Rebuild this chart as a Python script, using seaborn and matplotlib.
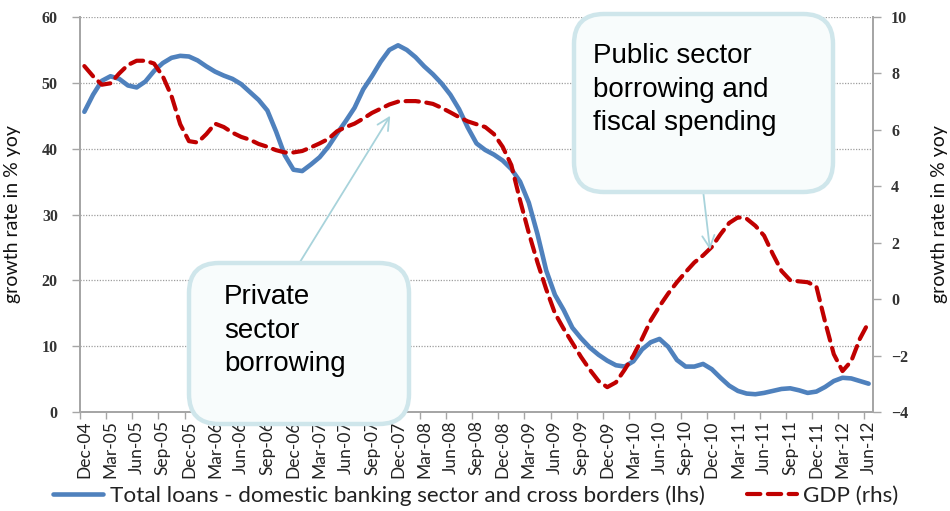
import matplotlib
matplotlib.use("Agg")
import numpy as np
import pandas as pd
import matplotlib.pyplot as plt
import seaborn as sns
from matplotlib.patches import FancyBboxPatch
from matplotlib.lines import Line2D
from matplotlib.transforms import IdentityTransform

# Monthly observations, Dec-04 .. Jun-12
months = pd.period_range("2004-12", "2012-06", freq="M").strftime("%b-%y").tolist()

# Total loans, domestic banking sector and cross borders, % yoy (left axis)
loans = [
    45.6, 48.2, 50.3, 51.0, 50.6, 49.6, 49.3, 50.2, 51.8, 53.0,
    53.8, 54.1, 54.0, 53.4, 52.5, 51.7, 51.1, 50.6, 49.8, 48.6,
    47.4, 45.8, 42.6, 39.0, 36.8, 36.6, 37.6, 38.7, 40.3, 42.3,
    44.2, 46.2, 49.0, 51.0, 53.2, 55.0, 55.7, 55.0, 53.9, 52.5,
    51.3, 49.9, 48.2, 46.0, 43.2, 40.8, 39.8, 39.1, 38.2, 36.9,
    35.0, 31.8, 27.0, 21.5, 17.8, 15.5, 12.8, 11.2, 9.8, 8.7,
    7.8, 7.1, 6.9, 7.7, 9.5, 10.6, 11.1, 9.9, 7.9, 6.9,
    6.9, 7.3, 6.5, 5.2, 4.0, 3.2, 2.8, 2.7, 2.9, 3.2,
    3.5, 3.6, 3.3, 2.9, 3.1, 3.8, 4.7, 5.2, 5.1, 4.7,
    4.3,
]

# GDP, % yoy (right axis)
gdp = [
    8.26, 7.90, 7.60, 7.65, 8.00, 8.30, 8.45, 8.45, 8.35, 7.90,
    7.20, 6.20, 5.60, 5.55, 5.85, 6.22, 6.10, 5.90, 5.75, 5.65,
    5.50, 5.40, 5.28, 5.20, 5.20, 5.25, 5.38, 5.52, 5.68, 5.95,
    6.10, 6.22, 6.40, 6.60, 6.75, 6.90, 7.00, 7.02, 7.02, 6.98,
    6.92, 6.78, 6.62, 6.45, 6.30, 6.20, 6.10, 5.85, 5.40, 4.75,
    3.50, 2.35, 1.30, 0.35, -0.50, -1.05, -1.55, -2.05, -2.50, -2.90,
    -3.12, -2.95, -2.50, -2.00, -1.40, -0.75, -0.25, 0.20, 0.60, 0.96,
    1.30, 1.55, 1.85, 2.30, 2.70, 2.90, 2.85, 2.60, 2.25, 1.60,
    1.00, 0.67, 0.63, 0.60, 0.45, -0.80, -1.95, -2.55, -2.20, -1.40,
    -0.82,
]

tick_labels = [
    "Dec-04", "Mar-05", "Jun-05", "Sep-05", "Dec-05", "Mar-06", "Jun-06",
    "Sep-06", "Dec-06", "Mar-07", "Jun-07", "Sep-07", "Dec-07", "Mar-08",
    "Jun-08", "Sep-08", "Dec-08", "Mar-09", "Jun-09", "Sep-09", "Dec-09",
    "Mar-10", "Jun-10", "Sep-10", "Dec-10", "Mar-11", "Jun-11", "Sep-11",
    "Dec-11", "Mar-12", "Jun-12",
]

loans_label = "Total loans - domestic banking sector and cross borders (lhs)"
gdp_label = "GDP (rhs)"
axis_title = "growth rate in % yoy"

df = pd.DataFrame({"idx": np.arange(len(months)), "month": months,
                   "loans": loans, "gdp": gdp})

BLUE = "#4F81BD"
RED = "#C00000"
GREY = "#A6A6A6"
BOX_EDGE = "#CFE6EB"
BOX_FACE = "#F8FCFC"
ARROW = "#A8D3DB"

sns.set_theme(style="white")
plt.rcParams["font.family"] = ["Lato", "DejaVu Sans"]

W, H = 950, 511
fig = plt.figure(figsize=(W / 100, H / 100), dpi=100)
fig.patch.set_facecolor("white")
ax = fig.add_axes([80 / W, 1 - 412 / H, 793 / W, 395 / H])
ax2 = ax.twinx()

sns.lineplot(data=df, x="idx", y="loans", ax=ax, color=BLUE, linewidth=3.3,
             legend=False, solid_joinstyle="round", solid_capstyle="round")
sns.lineplot(data=df, x="idx", y="gdp", ax=ax2, color=RED, linewidth=3.0,
             linestyle=(0, (3.2, 1.8)), legend=False,
             dash_capstyle="round", dash_joinstyle="round")

ax.set_xlim(-0.5, len(months) - 0.5)
ax.set_ylim(0, 60)
ax2.set_ylim(-4, 10)
ax.set_yticks(np.arange(0, 61, 10))
ax2.set_yticks(np.arange(-4, 11, 2))

ax.set_xticks(np.arange(0, len(months), 3))
ax.set_xticklabels(tick_labels, rotation=90, fontsize=12.5, color="#222222")
ax.set_xticks(np.arange(-0.5, len(months), 3), minor=True)
ax.tick_params(axis="x", which="major", length=0, pad=6)
ax.tick_params(axis="x", which="minor", length=5, width=1, color=GREY,
               direction="out", bottom=True)

serif = ["Liberation Serif", "DejaVu Serif"]
for a, side in ((ax, "left"), (ax2, "right")):
    a.tick_params(axis="y", length=6, width=1, color=GREY, direction="out",
                  pad=10 if side == "left" else 7, labelsize=11.5,
                  labelcolor="#333333")
    for lab in a.get_yticklabels():
        lab.set_fontfamily(serif)
        lab.set_fontweight("bold")

ax.yaxis.grid(True, linestyle=(0, (1, 1.2)), color="#9E9E9E", linewidth=0.9)
ax.xaxis.grid(False)
ax2.grid(False)

for a in (ax, ax2):
    a.spines["top"].set_visible(False)
    for s in ("left", "right", "bottom"):
        a.spines[s].set_color(GREY)
        a.spines[s].set_linewidth(1.3)

ax.set_xlabel("")
ax.set_ylabel(axis_title, fontsize=14, color="#111111")
ax2.set_ylabel(axis_title, fontsize=14, color="#111111")
ax.yaxis.set_label_coords((21 - 80) / 793, 0.5)
ax2.yaxis.set_label_coords((931 - 80) / 793, 0.5)


def fig_px(x, y):
    return x / W, 1 - y / H


# Arrows from the callouts to the curves
ax2.annotate("", xy=(35.1, 6.5), xytext=fig_px(300, 262),
             textcoords="figure fraction", annotation_clip=False,
             arrowprops=dict(arrowstyle="->", color=ARROW, lw=1.3,
                             mutation_scale=22, shrinkA=0, shrinkB=0))
ax2.annotate("", xy=(71.8, 1.75), xytext=fig_px(703, 190),
             textcoords="figure fraction", annotation_clip=False,
             arrowprops=dict(arrowstyle="->", color=ARROW, lw=1.3,
                             mutation_scale=22, shrinkA=0, shrinkB=0))


def callout(x0, y0, x1, y1, text, tx, ty):
    box = FancyBboxPatch((x0, H - y1), x1 - x0, y1 - y0,
                         boxstyle="round,pad=0,rounding_size=30",
                         transform=IdentityTransform(), facecolor=BOX_FACE,
                         edgecolor=BOX_EDGE, linewidth=3.2, zorder=5)
    fig.add_artist(box)
    fig.text(*fig_px(tx, ty), text, fontsize=20, ha="left", va="top",
             family=["Liberation Sans", "DejaVu Sans"], color="black",
             linespacing=1.38, zorder=6)


callout(189, 263, 409, 424, "Private\nsector\nborrowing", 224, 284)
callout(574, 14, 833, 192, "Public sector\nborrowing and\nfiscal spending", 593, 43)

handles = [
    Line2D([], [], color=BLUE, linewidth=3.3, solid_capstyle="round"),
    Line2D([], [], color=RED, linewidth=3.0, linestyle=(0, (3.2, 1.8)),
           dash_capstyle="round"),
]
fig.legend(handles, [loans_label, gdp_label], loc="center",
           bbox_to_anchor=(476 / W, 1 - 496 / H), ncol=2, frameon=False,
           fontsize=16.2, handlelength=2.2, handletextpad=0.3,
           columnspacing=1.9, labelcolor="#222222", borderpad=0.1)

fig.savefig("out.png", dpi=100, facecolor="white")
